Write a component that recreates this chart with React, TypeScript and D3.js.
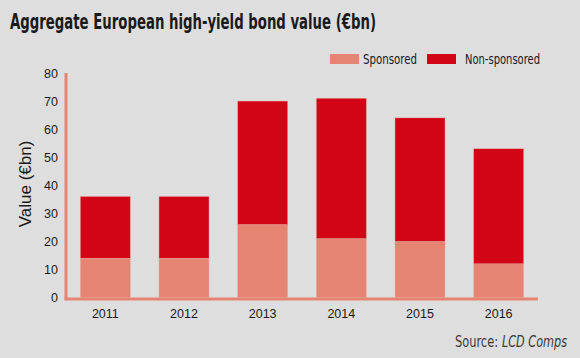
import React from 'react';
import * as d3 from 'd3';

const years = ['2011', '2012', '2013', '2014', '2015', '2016'];
const sponsored = [14, 14, 26, 21, 20, 12];
const nonSponsored = [22, 22, 44, 50, 44, 41];
const yTicks = [0, 10, 20, 30, 40, 50, 60, 70, 80];

const W = 580;
const H = 358;
const BG = '#dedede';
const SPONSORED = '#e58473';
const NON = '#d10515';
const COND = '"DejaVu Sans Condensed", "Liberation Sans", sans-serif';
const SANS = '"Liberation Sans", Arial, sans-serif';

const App = () => {
  const x = d3.scaleBand<string>()
    .domain(years)
    .range([66, 538])
    .paddingInner(0.364)
    .paddingOuter(0.182);

  const y = d3.scaleLinear().domain([0, 80]).range([297.5, 73]);

  const stacked = d3.stack<any>()
    .keys(['sponsored', 'non'])(
      years.map((yr, i) => ({ year: yr, sponsored: sponsored[i], non: nonSponsored[i] }))
    );
  const colors = [SPONSORED, NON];

  return (
    <svg width={W} height={H} style={{ position: 'absolute', left: 0, top: 0, display: 'block' }}>
      <rect width={W} height={H} fill={BG} />

      {/* title */}
      <text x={10} y={29} fontFamily={COND} fontWeight="bold" fontSize={21} fill="#1a1a1a"
        textLength={366} lengthAdjust="spacingAndGlyphs">
        Aggregate European high-yield bond value (€bn)
      </text>

      {/* legend */}
      <rect x={330} y={54} width={29} height={10} fill={SPONSORED} />
      <text x={363} y={64} fontFamily={COND} fontSize={14} fill="#1a1a1a"
        textLength={54} lengthAdjust="spacingAndGlyphs">Sponsored</text>
      <rect x={427} y={54} width={29} height={10} fill={NON} />
      <text x={465} y={64} fontFamily={COND} fontSize={14} fill="#1a1a1a"
        textLength={75} lengthAdjust="spacingAndGlyphs">Non-sponsored</text>

      {/* bars */}
      {stacked.map((layer, li) => (
        <g key={li}>
          {layer.map((d, i) => (
            <rect key={i}
              x={x(years[i])}
              y={y(d[1])}
              width={x.bandwidth()}
              height={y(d[0]) - y(d[1])}
              fill={colors[li]}
              stroke="#e9b0a6" strokeWidth={0.4} />
          ))}
        </g>
      ))}

      {/* axes */}
      <line x1={66} x2={66} y1={73} y2={299.5} stroke={SPONSORED} strokeWidth={3} />
      <line x1={64.5} x2={538} y1={299} y2={299} stroke={SPONSORED} strokeWidth={3} />

      {yTicks.map(t => (
        <text key={t} x={58} y={y(t) + 4.5} textAnchor="end" fontFamily={SANS} fontSize={12.5} fill="#1a1a1a">
          {t}
        </text>
      ))}

      <text transform="translate(31,184) rotate(-90)" textAnchor="middle" fontFamily={SANS} fontSize={17} fill="#1a1a1a">
        Value (€bn)
      </text>

      {years.map(yr => (
        <text key={yr} x={(x(yr) ?? 0) + x.bandwidth() / 2} y={318} textAnchor="middle"
          fontFamily={SANS} fontSize={12.5} fill="#1a1a1a">
          {yr}
        </text>
      ))}

      {/* source */}
      <text x={455} y={347} fontFamily={COND} fontSize={15} fill="#3a3a3a"
        textLength={43} lengthAdjust="spacingAndGlyphs">Source:</text>
      <text x={502} y={347} fontFamily={COND} fontStyle="italic" fontSize={15} fill="#3a3a3a"
        textLength={65} lengthAdjust="spacingAndGlyphs">LCD Comps</text>
    </svg>
  );
};

export default App;
